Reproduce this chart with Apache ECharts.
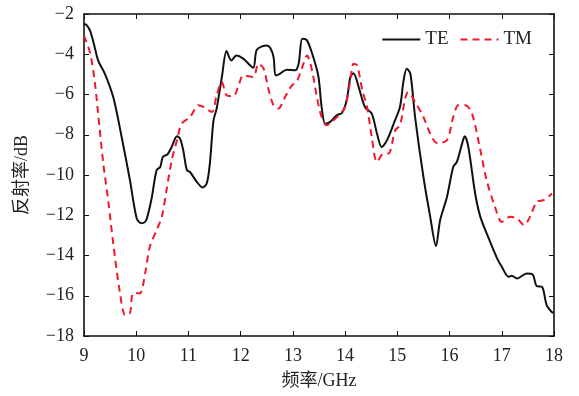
<!DOCTYPE html>
<html>
<head>
<meta charset="utf-8">
<script src="https://cdn.jsdelivr.net/npm/echarts@6/dist/echarts.min.js"></script>
<style>
  html, body { margin: 0; padding: 0; background: #fff; }
  #chart { width: 579px; height: 396px; }
</style>
</head>
<body>
<div id="chart"></div>
<script>
// 频率 (GHz) / 反射率 (dB)
var teFreq = [9.0, 9.05, 9.12, 9.2, 9.27, 9.4, 9.56, 9.72, 9.88, 10.01, 10.1, 10.18, 10.23, 10.3, 10.39, 10.46, 10.51,
  10.6, 10.68, 10.78, 10.84, 10.9, 10.97, 11.03, 11.16, 11.27, 11.35, 11.41, 11.48, 11.54, 11.64, 11.73, 11.82,
  11.92, 12.05, 12.24, 12.31, 12.5, 12.57, 12.63, 12.67, 12.75, 12.88, 13.04, 13.11, 13.18, 13.27, 13.39, 13.49,
  13.55, 13.62, 13.71, 13.84, 13.94, 14.03, 14.1, 14.16, 14.26, 14.38, 14.51, 14.61, 14.7, 14.8, 14.93, 15.05,
  15.12, 15.18, 15.25, 15.34, 15.5, 15.63, 15.74, 15.82, 15.95, 16.07, 16.14, 16.24, 16.29, 16.36, 16.49, 16.59,
  16.75, 16.91, 17.0, 17.13, 17.19, 17.29, 17.48, 17.59, 17.67, 17.77, 17.86, 17.98];
var teVal = [-2.5, -2.55, -2.85, -3.6, -4.3, -4.97, -6.13, -8.1, -10.26, -12.16, -12.4, -12.3, -11.91, -11.09, -9.76,
  -9.6, -9.1, -8.97, -8.6, -8.08, -8.19, -8.77, -9.76, -9.85, -10.34, -10.62, -10.42, -9.43, -7.28, -6.7, -5.13,
  -3.84, -4.31, -4.06, -4.22, -4.67, -3.78, -3.56, -3.7, -4.14, -5.05, -4.97, -4.77, -4.8, -4.47, -3.23, -3.31,
  -4.14, -5.13, -6.62, -7.45, -7.37, -7.03, -6.92, -6.29, -5.13, -4.94, -5.63, -6.62, -6.95, -7.94, -8.61, -8.28,
  -7.45, -6.62, -5.3, -4.72, -4.97, -7.12, -10.1, -12.08, -13.53, -12.24, -11.09, -9.6, -9.35, -8.44, -8.08, -8.61,
  -10.92, -12.08, -13.15, -14.14, -14.56, -15.06, -15.0, -15.14, -14.89, -14.94, -15.52, -15.55, -16.46, -16.87];

var tmFreq = [9.0, 9.12, 9.21, 9.27, 9.37, 9.47, 9.56, 9.69, 9.79, 9.88, 9.94, 10.07, 10.17, 10.26, 10.39, 10.49,
  10.58, 10.68, 10.78, 10.87, 11.03, 11.19, 11.29, 11.45, 11.54, 11.64, 11.73, 11.86, 11.96, 12.05, 12.24, 12.34,
  12.44, 12.53, 12.63, 12.72, 12.85, 12.98, 13.07, 13.17, 13.27, 13.36, 13.46, 13.55, 13.65, 13.78, 13.91, 14.0,
  14.1, 14.16, 14.23, 14.33, 14.42, 14.51, 14.61, 14.74, 14.83, 14.96, 15.05, 15.15, 15.21, 15.34, 15.5, 15.63,
  15.76, 15.95, 16.07, 16.17, 16.3, 16.43, 16.59, 16.71, 16.87, 17.0, 17.16, 17.29, 17.43, 17.54, 17.67, 17.8, 17.96];
var tmVal = [-3.07, -3.97, -5.46, -6.95, -9.43, -11.41, -13.4, -15.88, -16.96, -16.87, -15.88, -15.88, -14.89,
  -13.57, -12.74, -12.08, -10.76, -9.27, -8.27, -7.45, -7.12, -6.54, -6.62, -6.87, -6.04, -5.38, -6.04, -6.09,
  -5.55, -5.05, -5.13, -4.47, -4.72, -5.71, -6.54, -6.7, -6.13, -5.55, -5.38, -4.72, -4.06, -4.72, -6.13, -7.12,
  -7.53, -7.28, -6.95, -6.62, -5.3, -4.47, -4.55, -5.79, -6.62, -8.11, -9.35, -8.93, -8.93, -7.78, -7.53, -6.2,
  -5.88, -6.37, -7.12, -7.94, -8.41, -8.27, -7.12, -6.54, -6.54, -6.95, -8.77, -10.26, -11.58, -12.33, -12.08,
  -12.16, -12.49, -12.08, -11.33, -11.25, -10.92];

var xTicks = [9, 10, 11, 12, 13, 14, 15, 16, 17, 18];
var yTicks = [-18, -16, -14, -12, -10, -8, -6, -4, -2];

function pairs(xs, ys) {
  var out = [];
  for (var i = 0; i < xs.length; i++) out.push([xs[i], ys[i]]);
  return out;
}

var serif = '"Liberation Serif", "Noto Sans CJK SC", serif';
var chart = echarts.init(document.getElementById('chart'));

var axisLine = { show: true, lineStyle: { color: '#111', width: 1.6 } };
var tick = { show: true, inside: true, length: 5, lineStyle: { color: '#111', width: 1 } };

chart.setOption({
  animation: false,
  grid: { left: 84, right: 25, top: 14, bottom: 60 },
  legend: {
    right: 42, top: 25,
    itemWidth: 38, itemHeight: 12, itemGap: 11,
    itemStyle: { opacity: 0, borderWidth: 0 },
    textStyle: { fontFamily: serif, fontSize: 19, color: '#222' },
    data: ['TE', 'TM']
  },
  xAxis: [{
    type: 'value', min: xTicks[0], max: xTicks[xTicks.length - 1], interval: 1,
    name: '频率/GHz', nameLocation: 'middle', nameGap: 36,
    nameTextStyle: { fontFamily: serif, fontSize: 18, color: '#222' },
    axisLine: axisLine, axisTick: tick, splitLine: { show: false },
    axisLabel: { fontFamily: serif, fontSize: 18, color: '#222', margin: 11 }
  }, {
    type: 'value', position: 'top', min: xTicks[0], max: xTicks[xTicks.length - 1], interval: 1,
    axisLine: axisLine, axisTick: tick, axisLabel: { show: false }, splitLine: { show: false }
  }],
  yAxis: [{
    type: 'value', min: yTicks[0], max: yTicks[yTicks.length - 1], interval: 2,
    name: '反射率/dB', nameLocation: 'middle', nameGap: 53, nameRotate: 90,
    nameTextStyle: { fontFamily: serif, fontSize: 18, color: '#222' },
    axisLine: axisLine, axisTick: tick, splitLine: { show: false },
    axisLabel: {
      fontFamily: serif, fontSize: 18, color: '#222', margin: 10,
      formatter: function (v) { return v < 0 ? '\u2212' + Math.abs(v) : String(v); }
    }
  }, {
    type: 'value', position: 'right', min: yTicks[0], max: yTicks[yTicks.length - 1], interval: 2,
    axisLine: axisLine, axisTick: tick, axisLabel: { show: false }, splitLine: { show: false }
  }],
  series: [{
    name: 'TE', type: 'line', data: pairs(teFreq, teVal),
    smooth: 0.3, showSymbol: false, symbol: 'none',
    itemStyle: { color: '#111' },
    lineStyle: { color: '#111', width: 2 }
  }, {
    name: 'TM', type: 'line', data: pairs(tmFreq, tmVal),
    smooth: 0.3, showSymbol: false, symbol: 'none',
    itemStyle: { color: '#f2182c' },
    lineStyle: { color: '#f2182c', width: 2, type: [7, 5] }
  }]
});
</script>
</body>
</html>
